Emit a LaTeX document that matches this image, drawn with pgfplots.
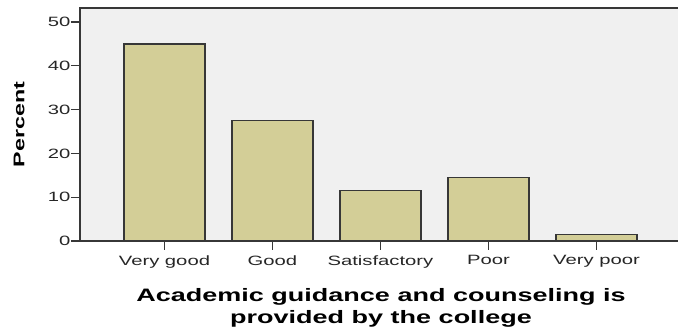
\documentclass[border=0pt]{standalone}
\usepackage{pgfplots}
\pgfplotsset{compat=1.18}
\usepackage{fontspec}
\setmainfont{Liberation Sans}[FakeStretch=1.5]
\definecolor{barfill}{RGB}{211,206,151}
\definecolor{bgray}{RGB}{240,240,240}
\definecolor{edge}{RGB}{55,55,55}
\begin{document}
\begin{tikzpicture}
\begin{axis}[
    scale only axis,
    width=602pt, height=233pt,
    at={(80pt,91pt)}, anchor=south west,
    xmin=-0.782, xmax=4.792,
    ymin=0, ymax=53.2,
    axis background/.style={fill=bgray},
    axis line style={edge, line width=1.4pt},
    ybar, bar width=0.75,
    xtick=data,
    xticklabels={Very good, Good, Satisfactory, Poor, Very poor},
    ytick={0,10,20,30,40,50},
    xtick pos=bottom, ytick pos=left,
    tick align=outside,
    major tick length=9pt,
    tick style={edge, line width=1.2pt},
    /pgf/number format/assume math mode=true,
    ticklabel style={font=\fontsize{13.5}{15}\selectfont, text=black!85},
    xticklabel style={yshift=-2pt},
    yticklabel style={xshift=3pt},
    ylabel={Percent},
    every axis y label/.style={at={(axis description cs:0,0.5)}, xshift=-61pt, rotate=90, anchor=center, font=\bfseries\fontsize{15.5}{18}\selectfont},
    xlabel={Academic guidance and counseling is\\provided by the college},
    every axis x label/.style={at={(axis description cs:0.5,0)}, anchor=north, yshift=-44pt, align=center, font=\bfseries\fontsize{18}{22}\selectfont},
]
\addplot[fill=barfill, draw=edge, line width=1.3pt] coordinates {(0,45) (1,27.5) (2,11.5) (3,14.5) (4,1.5)};
\end{axis}
\pgfresetboundingbox
\path[use as bounding box] (0,0) rectangle (678pt,332pt);
\end{tikzpicture}
\end{document}
